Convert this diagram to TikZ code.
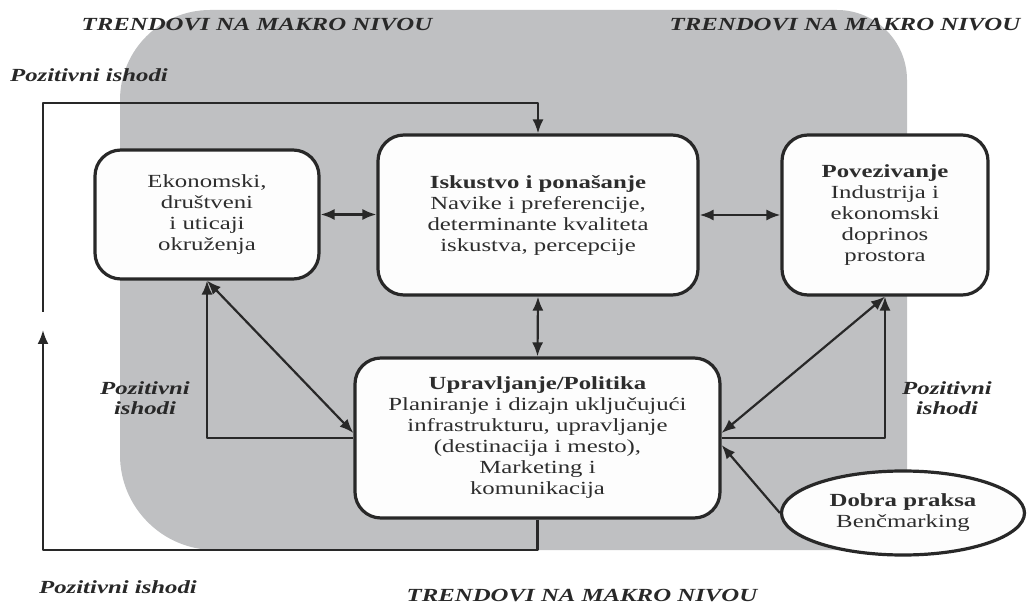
\documentclass[tikz,border=0pt]{standalone}
\usepackage{fontspec}
\setmainfont{Liberation Serif}[FakeStretch=1.34]
\usetikzlibrary{arrows.meta,shapes.geometric}
\definecolor{bgray}{RGB}{191,192,194}
\definecolor{ink}{RGB}{40,40,40}
\definecolor{txt}{RGB}{45,45,45}
\definecolor{boxfill}{RGB}{253,253,253}
\tikzset{
  box/.style={draw=ink, line width=3.2pt, fill=boxfill, rounded corners=26pt,
    align=center, text=txt, inner sep=0pt, font=\fontsize{18.5}{21}\selectfont},
  conn/.style={draw=ink, line width=2.2pt},
  arr/.style={conn, -{Latex[length=14pt,width=11pt]}},
  dbl/.style={conn, {Latex[length=14pt,width=11pt]}-{Latex[length=14pt,width=11pt]}},
  lbl/.style={font=\fontsize{18.5}{20}\selectfont\bfseries\itshape, text=ink,
    align=center, inner sep=0pt}
}
\begin{document}
\begin{tikzpicture}[x=1pt,y=-1pt,line join=round]
\useasboundingbox (0,0) rectangle (1028,609);
% background
\fill[bgray] (120,300) [rounded corners=95pt] -- (120,550) -- (500,550)
  [rounded corners=8pt] -- (907,550) -- (907,300)
  [rounded corners=70pt] -- (907,10) -- (500,10)
  [rounded corners=90pt] -- (120,10) -- (120,300) -- cycle;
% labels
\node[lbl] (t1) at (257,25) {TRENDOVI NA MAKRO NIVOU};
\node[lbl] (t2) at (845,25) {TRENDOVI NA MAKRO NIVOU};
\node[lbl] (t3) at (582,596) {TRENDOVI NA MAKRO NIVOU};
\node[lbl] (p1) at (89,75) {Pozitivni ishodi};
\node[lbl] (p2) at (118,587) {Pozitivni ishodi};
\node[lbl] (p3) at (145,398) {Pozitivni\\ishodi};
\node[lbl] (p4) at (947,398) {Pozitivni\\ishodi};
% boxes
\node[box, minimum width=224, minimum height=129] (eko) at (207,214.5)
  {Ekonomski,\\društveni\\i uticaji\\okruženja};
\node[box, minimum width=320, minimum height=160] (isk) at (538,215)
  {\textbf{Iskustvo i ponašanje}\\Navike i preferencije,\\determinante kvaliteta\\iskustva, percepcije};
\node[box, minimum width=206, minimum height=160] (pov) at (885,215)
  {\textbf{Povezivanje}\\Industrija i\\ekonomski\\doprinos\\prostora};
\node[box, minimum width=365, minimum height=160] (upr) at (537.5,438)
  {\textbf{Upravljanje/Politika}\\Planiranje i dizajn uključujući\\infrastrukturu, upravljanje\\(destinacija i mesto),\\Marketing i\\komunikacija};
\node[ellipse, draw=ink, line width=3.2pt, fill=boxfill, minimum width=243,
  minimum height=84, inner sep=0pt, align=center, text=txt,
  font=\fontsize{18.5}{21}\selectfont] (dob) at (903,513)
  {\textbf{Dobra praksa}\\Benčmarking};
% connectors
\coordinate (gapT) at (43,312);
\coordinate (gapB) at (43,330);
\coordinate (tl) at (43,103);
\coordinate (bl) at (43,550);
\draw[dbl] (eko.east) -- (eko.east -| isk.west);
\draw[dbl] (isk.east) -- (isk.east -| pov.west);
\draw[dbl] (isk.south) -- (upr.north);
\draw[arr] (gapT) -- (tl) -| (isk.north);
\draw[arr] (upr.south) |- (bl) -- (gapB);
\draw[arr] (upr.west) -| (eko.south);
\draw[dbl] (eko.south) -- ([yshift=5pt]upr.west);
\draw[arr] (upr.east) -| (pov.south);
\draw[dbl] (pov.south) -- ([yshift=5pt]upr.east);
\draw[arr] (dob.west) -- ([yshift=-7pt]upr.east);
\end{tikzpicture}
\end{document}
